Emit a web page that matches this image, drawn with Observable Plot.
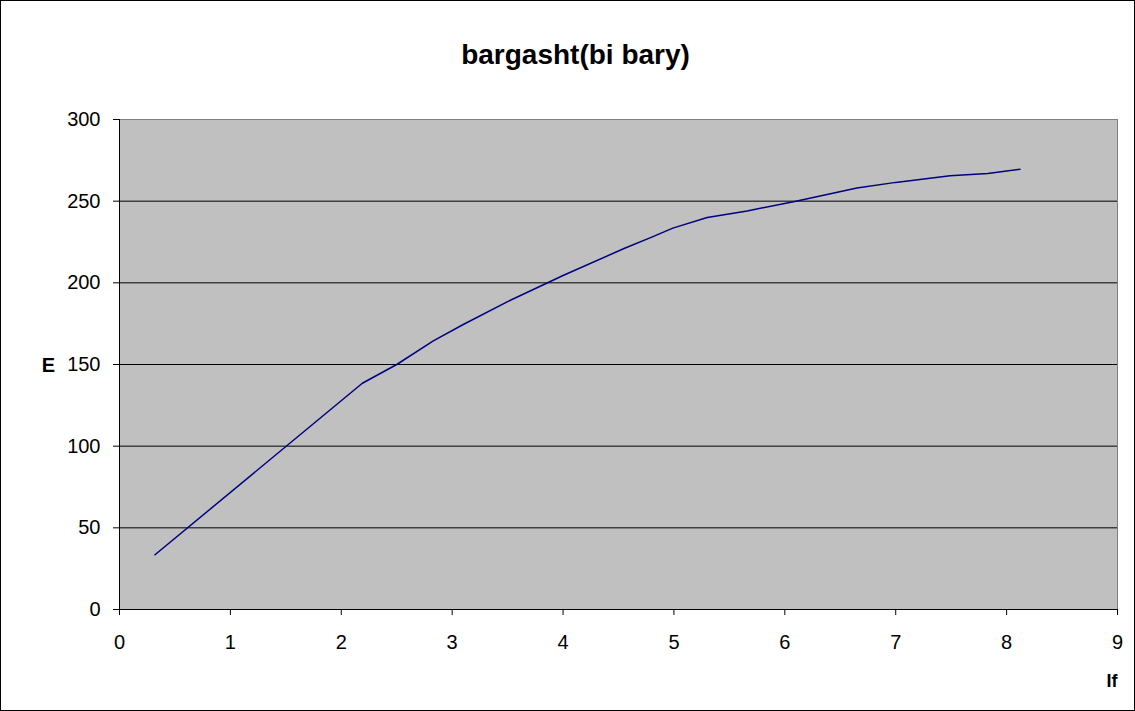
<!DOCTYPE html>
<html>
<head>
<meta charset="utf-8">
<script src="https://cdn.jsdelivr.net/npm/d3@7"></script>
<script src="https://cdn.jsdelivr.net/npm/@observablehq/plot@0.6"></script>
<style>
  html, body { margin: 0; padding: 0; background: #fff; }
  #wrap { position: relative; width: 1135px; height: 711px; }
  #border { position: absolute; left: 0; top: 0; width: 1135px; height: 711px; box-sizing: border-box; border: 1px solid #000; pointer-events: none; }
  svg { display: block; }
</style>
</head>
<body>
<div id="wrap"><div id="border"></div></div>
<script>
const titleText = "bargasht(bi bary)";
const xLabel = "If";
const yLabel = "E";
const If = [0.32, 2.19, 2.5, 2.83, 3.1, 3.5, 4.0, 4.55, 4.8, 4.99, 5.3, 5.66, 6.1, 6.65, 7.0, 7.49, 7.83, 8.12];
const E  = [33.5, 138.5, 150, 164.5, 174.5, 188.5, 204.5, 221, 228, 233.5, 240, 244, 250, 258, 261.5, 265.5, 267, 269.5];
const xTicks = [0, 1, 2, 3, 4, 5, 6, 7, 8, 9];
const yTicks = [0, 50, 100, 150, 200, 250, 300];

const data = If.map((x, i) => ({x, y: E[i]}));

const chart = Plot.plot({
  width: 1135,
  height: 711,
  marginLeft: 119,
  marginTop: 119,
  marginRight: 18,
  marginBottom: 102,
  style: { fontFamily: "'Liberation Sans', Arial, sans-serif", fontSize: "20px", background: "transparent", color: "#000" },
  x: { domain: [0, 9] },
  y: { domain: [0, 300] },
  marks: [
    Plot.frame({ fill: "#c0c0c0", stroke: "#808080" }),
    Plot.gridY(yTicks.filter(d => d > 0 && d < 300), { stroke: "#000", strokeOpacity: 1 }),
    Plot.line(data, { x: "x", y: "y", stroke: "#000080", strokeWidth: 1.5 }),
    Plot.ruleX([0], { stroke: "#000", strokeWidth: 1 }),
    Plot.ruleY([0], { stroke: "#000", strokeWidth: 1 }),
    Plot.axisX(xTicks, { tickSize: 6, tickPadding: 19, label: null, fontSize: 20 }),
    Plot.axisY(yTicks, { tickSize: 6, tickPadding: 13, label: null, fontSize: 20 }),
    Plot.text([titleText], { frameAnchor: "top-left", dx: 456, dy: -75, text: d => d, fontSize: 28, fontWeight: "bold", textAnchor: "middle" }),
    Plot.text([yLabel], { frameAnchor: "left", dx: -71, dy: 1, text: d => d, fontSize: 20, fontWeight: "bold", textAnchor: "middle" }),
    Plot.text([xLabel], { frameAnchor: "bottom-right", dy: 77, text: d => d, fontSize: 18, fontWeight: "bold", textAnchor: "end" })
  ]
});
document.getElementById("wrap").prepend(chart);
</script>
</body>
</html>
